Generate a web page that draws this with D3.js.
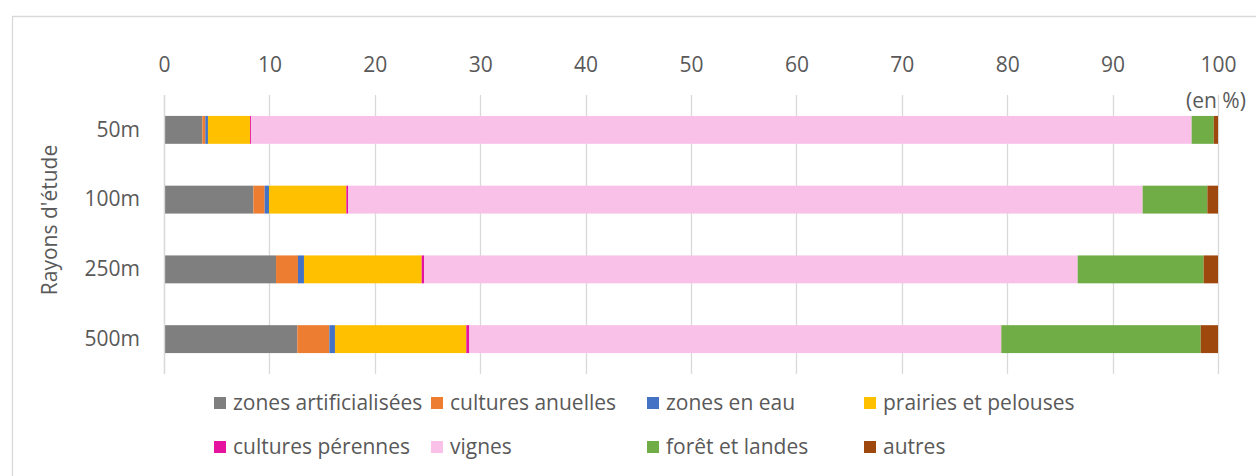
<!DOCTYPE html>
<html>
<head>
<meta charset="UTF-8">
<title>Occupation du sol par rayon d'étude</title>
<style>
    body { margin: 0; background: #fff; }
    text { font-family: "Open Sans", sans-serif; fill: #595959; }
    .grid line { stroke: #d9d9d9; stroke-width: 1.3; }
</style>
</head>
<body>
<script src="https://cdn.jsdelivr.net/npm/d3@7"></script>
<script>
    // Données (en %)
    var rayons = ["50m", "100m", "250m", "500m"];
    var series = ["zones artificialisées", "cultures anuelles", "zones en eau", "prairies et pelouses",
                  "cultures pérennes", "vignes", "forêt et landes", "autres"];
    var zonesArtificialisees = [3.64, 8.48, 10.63, 12.65];
    var culturesAnuelles     = [0.28, 1.07, 2.08, 3.04];
    var zonesEnEau           = [0.25, 0.41, 0.57, 0.53];
    var prairiesPelouses     = [4.00, 7.34, 11.17, 12.46];
    var culturesPerennes     = [0.09, 0.16, 0.22, 0.29];
    var vignes               = [89.24, 75.39, 62.02, 50.47];
    var foretLandes          = [2.10, 6.14, 11.95, 18.92];
    var autres               = [0.40, 1.01, 1.36, 1.64];
    var ticks = [0, 10, 20, 30, 40, 50, 60, 70, 80, 90, 100];

    var couleurs = ["#7f7f7f", "#ed7d31", "#4472c4", "#ffc000", "#e6139f", "#f9c0e8", "#70ad47", "#9e480e"];
    var valeurs = [zonesArtificialisees, culturesAnuelles, zonesEnEau, prairiesPelouses,
                   culturesPerennes, vignes, foretLandes, autres];

    // table pour d3.stack
    var table = rayons.map(function(r, i) {
        var row = { rayon: r };
        series.forEach(function(s, j) { row[s] = valeurs[j][i]; });
        return row;
    });

    var width = 1256, height = 476;
    var taille = "21px";

    var svg = d3.select("body").append("svg")
        .attr("width", width)
        .attr("height", height);

    // cadre du graphique (coupé à droite et en bas)
    svg.append("path")
        .attr("d", "M12.5," + height + "V16.5H" + width)
        .attr("fill", "none")
        .attr("stroke", "#d9d9d9")
        .attr("stroke-width", 1.3);

    var x = d3.scaleLinear().domain([0, 100]).range([164, 1218]);
    var y = d3.scaleBand().domain(rayons).range([95, 374]).paddingInner(0.6).paddingOuter(0.3);
    var color = d3.scaleOrdinal().domain(series).range(couleurs);

    // grille verticale
    svg.append("g")
        .attr("class", "grid")
        .selectAll("line")
        .data(ticks)
        .enter().append("line")
            .attr("x1", function(d) { return Math.round(x(d)) + 0.5; })
            .attr("x2", function(d) { return Math.round(x(d)) + 0.5; })
            .attr("y1", 95)
            .attr("y2", 374);

    // axe du haut
    var axeX = svg.append("g")
        .attr("transform", "translate(0,72)")
        .call(d3.axisTop(x).tickValues(ticks).tickSize(0).tickPadding(0));
    axeX.select(".domain").remove();
    axeX.selectAll("text")
        .attr("dy", 0)
        .style("font-size", taille)
        .style("fill", "#595959")
        .style("font-family", "'Open Sans', sans-serif");

    svg.append("text")
        .attr("x", 1186)
        .attr("y", 108)
        .style("font-size", taille)
        .text("(en %)");

    // barres empilées
    var stack = d3.stack().keys(series);
    var couches = svg.selectAll(".serie")
        .data(stack(table))
        .enter().append("g")
            .attr("class", "serie")
            .attr("fill", function(d) { return color(d.key); });

    couches.selectAll("rect")
        .data(function(d) { return d; })
        .enter().append("rect")
            .attr("x", function(d) { return x(d[0]); })
            .attr("width", function(d) { return x(d[1]) - x(d[0]); })
            .attr("y", function(d) { return y(d.data.rayon); })
            .attr("height", y.bandwidth());

    // axe vertical
    var axeY = svg.append("g")
        .attr("transform", "translate(164,0)")
        .call(d3.axisLeft(y).tickSize(0).tickPadding(24));
    axeY.select(".domain")
        .attr("stroke", "#d9d9d9")
        .attr("stroke-width", 1.3)
        .attr("d", "M0.5,95V374");
    axeY.selectAll("text")
        .style("font-size", taille)
        .style("fill", "#595959")
        .style("font-family", "'Open Sans', sans-serif");

    svg.append("text")
        .attr("transform", "translate(57,220) rotate(-90)")
        .attr("text-anchor", "middle")
        .style("font-size", taille)
        .text("Rayons d'étude");

    // légende
    var colonnes = [214, 431, 647, 864];
    var lignes = [403, 447];
    var legende = svg.selectAll(".legende")
        .data(series)
        .enter().append("g")
            .attr("class", "legende")
            .attr("transform", function(d, i) {
                return "translate(" + colonnes[i % 4] + "," + lignes[Math.floor(i / 4)] + ")";
            });

    legende.append("rect")
        .attr("x", 0)
        .attr("y", -6)
        .attr("width", 12)
        .attr("height", 12)
        .attr("fill", function(d) { return color(d); });

    legende.append("text")
        .attr("x", 19)
        .attr("y", 7)
        .style("font-size", taille)
        .text(function(d) { return d; });
</script>
</body>
</html>
